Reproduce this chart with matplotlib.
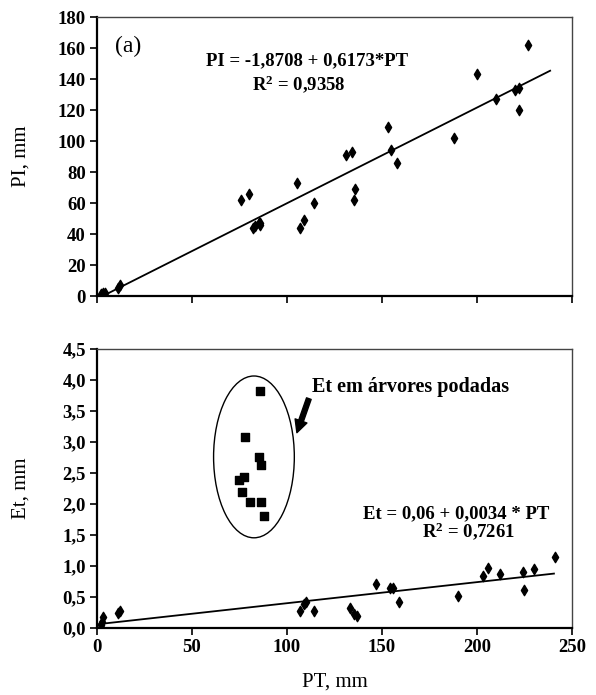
import matplotlib
matplotlib.use("Agg")
import matplotlib.pyplot as plt
from matplotlib.patches import Ellipse
from matplotlib.ticker import FuncFormatter
import numpy as np

plt.rcParams["font.family"] = ["Liberation Serif", "DejaVu Serif"]
plt.rcParams["mathtext.fontset"] = "custom"
plt.rcParams["mathtext.rm"] = "Liberation Serif:bold"
plt.rcParams["mathtext.bf"] = "Liberation Serif:bold"
plt.rcParams["mathtext.default"] = "bf"

# (a) PI vs PT
pt_a = [2, 3, 4, 11, 12, 76, 80, 82, 83, 85, 86, 86, 105, 107, 109, 114,
        131, 134, 135, 136, 153, 155, 158, 188, 200, 210, 220, 222, 222, 227]
pi_a = [1, 2, 2, 5, 7, 62, 66, 44, 45, 47, 47, 46, 73, 44, 49, 60,
        91, 93, 62, 69, 109, 94, 86, 102, 143, 127, 133, 134, 120, 162]
fit_a = (-1.8708, 0.6173)

# (b) Et vs PT
pt_b = [2, 2.5, 3.3, 11, 12, 107, 109, 110, 114, 133, 135, 137, 147, 154, 156,
        159, 190, 203, 206, 212, 224, 225, 230, 241]
et_b = [0.05, 0.1, 0.18, 0.25, 0.27, 0.27, 0.39, 0.42, 0.27, 0.32, 0.22, 0.2, 0.71,
        0.65, 0.65, 0.42, 0.52, 0.84, 0.96, 0.87, 0.91, 0.61, 0.95, 1.15]
pt_pruned = [86, 78, 85, 86.5, 77.5, 74.5, 76.5, 80.5, 86.5, 88]
et_pruned = [3.82, 3.08, 2.76, 2.63, 2.44, 2.38, 2.2, 2.03, 2.03, 1.81]
fit_b = (0.06, 0.0034)

TEXT_FONT = dict(fontsize=13.5, fontweight="bold")


def style_axes(ax):
    for side in ["left", "bottom"]:
        ax.spines[side].set_linewidth(1.6)
    for side in ["top", "right"]:
        ax.spines[side].set_linewidth(1.0)
        ax.spines[side].set_color("#444444")
    ax.tick_params(direction="out", length=5, width=1.2, pad=3, top=False, right=False,
                   labelsize=13.5)
    ax.set_xlim(0, 250)
    ax.set_xticks(range(0, 251, 50))
    for lbl in ax.get_yticklabels() + ax.get_xticklabels():
        lbl.set_fontweight("bold")
    ax.yaxis.set_label_coords(-0.14, 0.5)


fig = plt.figure(figsize=(5.96, 6.95), dpi=100)
ax1 = fig.add_axes([0.1628, 0.5741, 0.7969, 0.4014])
ax2 = fig.add_axes([0.1628, 0.0964, 0.7969, 0.4014])

# panel (a)
ax1.scatter(pt_a, pi_a, marker="d", s=28, color="black", zorder=3)
xa = np.array([1.5, 238.5])
ax1.plot(xa, fit_a[0] + fit_a[1] * xa, color="black", lw=1.3)
ax1.set_ylim(0, 180)
ax1.set_yticks(range(0, 181, 20))
ax1.set_ylabel("PI, mm", fontsize=15)
style_axes(ax1)
ax1.set_xticklabels([])
ax1.text(9.5, 161, "(a)", fontsize=17, va="center")
ax1.text(110.5, 152, "PI = -1,8708 + 0,6173*PT", ha="center", va="center", **TEXT_FONT)
ax1.text(106, 137, r"R$^{2}$ = 0,9358", ha="center", va="center", **TEXT_FONT)

# panel (b)
ax2.scatter(pt_b, et_b, marker="d", s=28, color="black", zorder=3)
ax2.scatter(pt_pruned, et_pruned, marker="s", s=26, color="black", zorder=3)
xb = np.array([1.0, 240.5])
ax2.plot(xb, fit_b[0] + fit_b[1] * xb, color="black", lw=1.3)
ax2.add_patch(Ellipse((82.6, 2.76), 42.5, 2.61, fill=False, edgecolor="black", lw=1.0))
ax2.annotate("", xy=(105.2, 3.15), xytext=(111.5, 3.7),
             arrowprops=dict(arrowstyle="simple,head_width=0.9,head_length=0.9,tail_width=0.35",
                             color="black", shrinkA=0, shrinkB=0))
ax2.text(113, 3.89, "Et em árvores podadas", ha="left", va="center",
         fontsize=14.5, fontweight="bold")
ax2.text(189, 1.84, "Et = 0,06 + 0,0034 * PT", ha="center", va="center", **TEXT_FONT)
ax2.text(195.5, 1.56, r"R$^{2}$ = 0,7261", ha="center", va="center", **TEXT_FONT)
ax2.set_ylim(0, 4.5)
ax2.set_yticks(np.arange(0, 4.51, 0.5))
ax2.yaxis.set_major_formatter(FuncFormatter(lambda v, p: f"{v:.1f}".replace(".", ",")))
ax2.set_ylabel("Et, mm", fontsize=15)
ax2.set_xlabel("PT, mm", fontsize=15, labelpad=12)
style_axes(ax2)

fig.savefig("out.png", dpi=100)
